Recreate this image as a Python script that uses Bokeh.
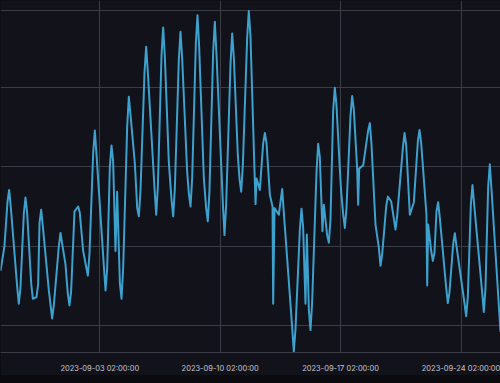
from datetime import datetime, timedelta
from bokeh.plotting import figure
from bokeh.models import Range1d, FixedTicker, DatetimeTickFormatter
from bokeh.embed import file_html
from bokeh.resources import INLINE

# ---- data ----
base_time = datetime(2023, 8, 28, 0, 0)
# hours since base_time
hours = [7.5, 13.0, 17.2, 19.5, 21.8, 30.7, 33.0, 35.3, 40.0, 42.3,
         44.6, 50.3, 52.6, 57.7, 60.0, 61.9, 64.2, 66.5, 74.9, 79.5,
         81.8, 88.9, 91.2, 93.5, 98.1, 101.4, 103.7, 106.0, 110.7, 115.8,
         118.1, 122.8, 129.3, 131.6, 136.8, 139.1, 141.4, 151.7, 154.0, 156.3,
         160.0, 162.3, 164.6, 167.9, 170.2, 174.0, 176.3, 178.6, 184.2, 186.5,
         188.8, 194.9, 198.2, 200.5, 202.8, 208.4, 210.7, 213.0, 222.4, 224.7,
         227.0, 232.1, 234.4, 236.7, 242.3, 246.1, 248.4, 250.7, 256.3, 258.6,
         260.9, 267.9, 270.3, 272.6, 274.9, 280.0, 282.3, 284.6, 291.2, 294.4,
         296.7, 299.0, 304.2, 306.5, 308.8, 317.7, 320.0, 322.3, 328.4, 330.7,
         333.0, 338.6, 341.0, 343.3, 345.6, 351.6, 353.9, 356.2, 361.9, 363.3,
         364.7, 369.3, 374.0, 376.3, 378.6, 383.3, 387.0, 387.9, 389.8, 395.8,
         400.5, 402.8, 414.4, 416.7, 419.0, 425.1, 427.4, 429.7, 433.0, 434.9,
         437.7, 440.0, 442.3, 448.4, 450.7, 453.0, 456.7, 458.6, 463.2, 465.6,
         467.9, 471.6, 473.9, 476.2, 480.9, 482.8, 485.6, 487.9, 490.2, 495.8,
         498.1, 500.4, 505.1, 506.5, 507.9, 513.5, 520.5, 522.8, 525.1, 530.7,
         535.4, 537.7, 540.0, 545.6, 547.9, 552.6, 558.6, 560.9, 568.9, 571.2,
         573.5, 578.6, 584.2, 589.8, 592.1, 594.4, 601.8, 602.8, 604.2, 608.4,
         610.7, 613.0, 615.8, 618.1, 620.4, 629.3, 631.6, 633.9, 639.1, 641.4,
         643.7, 654.9, 657.2, 659.5, 663.7, 666.0, 668.3, 679.5, 681.8, 684.1,
         687.9, 690.2, 692.5, 705.1]
values = [13.46, 15.01, 17.79, 18.54, 17.47, 12.46, 11.39, 12.39, 17.06, 18.06,
          17.11, 12.65, 11.70, 11.80, 12.62, 16.47, 17.29, 16.27, 12.22, 10.46,
          11.27, 15.03, 15.84, 15.15, 13.88, 12.00, 11.28, 12.17, 17.19, 17.50,
          17.10, 14.70, 13.15, 14.50, 20.90, 22.27, 20.76, 13.73, 12.22, 13.59,
          19.97, 21.34, 20.35, 14.70, 18.43, 12.70, 11.70, 13.60, 22.50, 24.40,
          23.30, 20.20, 17.40, 16.88, 18.50, 25.95, 27.55, 25.96, 18.60, 16.98,
          18.75, 26.98, 28.75, 26.97, 20.30, 17.90, 16.88, 18.62, 26.74, 28.48,
          26.83, 19.68, 18.30, 17.50, 19.30, 27.72, 29.52, 27.57, 19.26, 17.40,
          16.57, 18.45, 27.24, 29.11, 27.10, 17.70, 15.70, 17.60, 26.48, 28.38,
          26.88, 20.71, 19.20, 18.43, 20.10, 28.08, 29.79, 28.29, 19.68, 17.65,
          19.26, 18.54, 21.50, 22.12, 21.50, 18.23, 17.50, 11.39, 17.40, 16.98,
          18.60, 17.10, 9.90, 8.38, 9.75, 16.00, 17.36, 16.20, 11.39, 15.74,
          11.00, 9.73, 11.50, 19.70, 21.44, 20.60, 15.95, 17.61, 15.70, 15.22,
          16.70, 23.50, 24.96, 23.90, 19.88, 18.43, 17.00, 16.15, 17.40, 23.20,
          24.44, 23.60, 19.88, 17.61, 19.88, 20.09, 22.30, 22.74, 21.40, 16.36,
          14.90, 13.77, 14.50, 17.50, 18.12, 17.81, 16.05, 16.90, 21.20, 22.12,
          21.35, 16.98, 17.77, 21.60, 22.31, 21.50, 16.98, 12.53, 16.36, 14.70,
          14.08, 14.60, 17.20, 17.77, 16.80, 12.40, 11.43, 12.10, 15.15, 15.82,
          15.00, 11.40, 10.60, 11.80, 17.60, 18.85, 17.65, 12.10, 10.87, 12.30,
          18.75, 20.15, 18.60, 9.63]
tick_times = ["2023-09-03 02:00:00", "2023-09-10 02:00:00",
              "2023-09-17 02:00:00", "2023-09-24 02:00:00"]
y_grid_values = [10, 15, 20, 25, 29.8]

# ---- build ----
xs = [base_time + timedelta(hours=h) for h in hours]
epoch = datetime(1970, 1, 1)
def ms(dt):
    return (dt - epoch).total_seconds() * 1000.0
tick_ms = [ms(datetime.strptime(t, "%Y-%m-%d %H:%M:%S")) for t in tick_times]

BG = "#12121b"
GRID = "#3c3c47"
LINE = "#3ea0cd"
TEXT = "#c6c6d0"

p = figure(width=500, height=375, output_backend="svg", toolbar_location=None,
           x_axis_type="datetime",
           x_range=Range1d(base_time + timedelta(hours=7.45), base_time + timedelta(hours=705.1)),
           y_range=Range1d(8.32, 30.45),
           min_border_left=0, min_border_right=0, min_border_top=0, min_border_bottom=19)
p.background_fill_color = BG
p.border_fill_color = BG
p.outline_line_color = None

p.line(xs, values, line_color=LINE, line_width=2.0, line_join="round")

p.yaxis.visible = False
p.ygrid.ticker = FixedTicker(ticks=y_grid_values)
p.ygrid.grid_line_color = GRID
p.ygrid.grid_line_width = 1

p.xaxis.ticker = FixedTicker(ticks=tick_ms)
fmt = "%Y-%m-%d %H:%M:%S"
p.xaxis.formatter = DatetimeTickFormatter(
    microseconds=fmt, milliseconds=fmt, seconds=fmt, minsec=fmt, minutes=fmt,
    hourmin=fmt, hours=fmt, days=fmt, months=fmt, years=fmt)
p.xgrid.ticker = FixedTicker(ticks=tick_ms)
p.xgrid.grid_line_color = GRID
p.xgrid.grid_line_width = 1
p.xaxis.axis_line_color = GRID
p.xaxis.major_tick_line_color = None
p.xaxis.minor_tick_line_color = None
p.xaxis.major_label_text_color = TEXT
p.xaxis.major_label_text_font = "Inter"
p.xaxis.major_label_text_font_size = "7.5px"
p.xaxis.major_label_standoff = 5

html = file_html(p, INLINE)
html = html.replace("<head>", "<head><style>html,body{margin:0;padding:0;background:#0a0a0f;overflow:hidden}</style>", 1)
open("out.html", "w").write(html)
